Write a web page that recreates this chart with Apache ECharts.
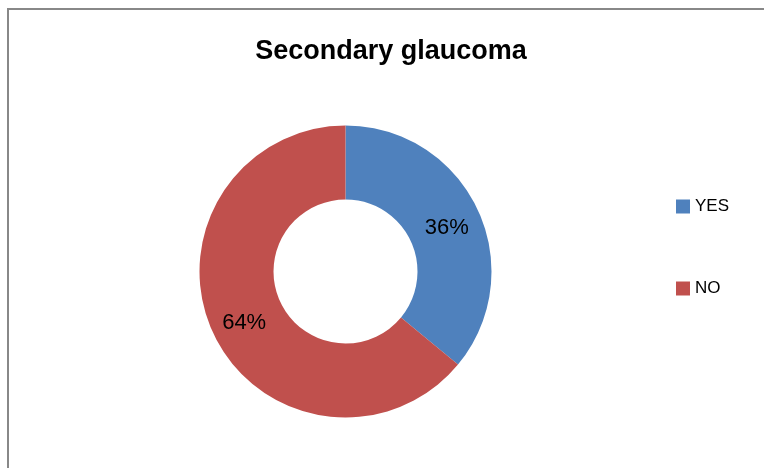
<!DOCTYPE html>
<html>
<head>
<meta charset="utf-8">
<script src="https://cdn.jsdelivr.net/npm/echarts@6/dist/echarts.min.js"></script>
<style>
html,body{margin:0;padding:0;background:#fff;}
#chart{width:764px;height:468px;}
</style>
</head>
<body>
<div id="chart"></div>
<script>
var titleText = 'Secondary glaucoma';
var categories = ['YES', 'NO'];
var values = [36, 64];
var colors = ['#4F81BD', '#C0504D'];

var chart = echarts.init(document.getElementById('chart'), null, {renderer: 'canvas'});
var data = categories.map(function (c, i) {
  return {name: c, value: values[i], itemStyle: {color: colors[i]}};
});
chart.setOption({
  animation: false,
  backgroundColor: '#fff',
  textStyle: {fontFamily: 'Liberation Sans, Arial, sans-serif'},
  title: {
    text: titleText,
    left: 386,
    top: 33,
    textAlign: 'center',
    textStyle: {fontSize: 27, fontWeight: 'bold', color: '#000', fontFamily: 'Liberation Sans, Arial, sans-serif'}
  },
  legend: {
    orient: 'vertical',
    left: 671,
    top: 193,
    itemWidth: 14,
    itemHeight: 14,
    itemGap: 65,
    icon: 'rect',
    data: categories,
    selectedMode: false,
    textStyle: {fontSize: 17, color: '#000', lineHeight: 14, padding: [1, 0, 0, 0]}
  },
  graphic: [{
    type: 'rect',
    shape: {x: 8, y: 9, width: 800, height: 500},
    style: {fill: 'none', stroke: '#888', lineWidth: 2},
    silent: true,
    z: 0
  }],
  series: [{
    type: 'pie',
    center: [345.5, 271.5],
    radius: [72, 146],
    startAngle: 90,
    clockwise: true,
    avoidLabelOverlap: false,
    silent: true,
    label: {
      show: true,
      position: 'inside',
      formatter: '{d}%',
      fontSize: 22,
      color: '#000',
      fontFamily: 'Liberation Sans, Arial, sans-serif'
    },
    labelLayout: {dy: 4},
    labelLine: {show: false},
    itemStyle: {borderWidth: 0},
    emphasis: {disabled: true},
    data: data
  }]
});
</script>
</body>
</html>
